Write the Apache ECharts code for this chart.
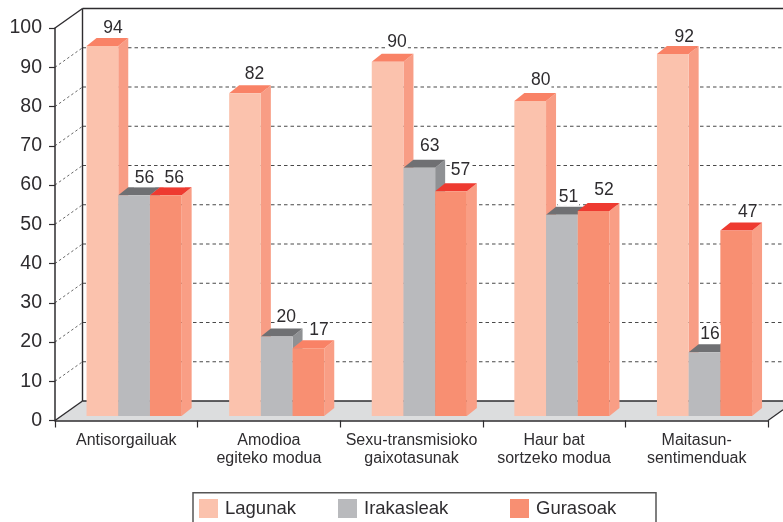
<!DOCTYPE html>
<html>
<head>
<meta charset="utf-8">
<style>html,body{margin:0;padding:0;background:#fff}#c{width:783px;height:522px}</style>
<script src="https://cdn.jsdelivr.net/npm/echarts@6/dist/echarts.min.js"></script>
</head>
<body>
<div id="c"></div>
<script>
var categories = ['Antisorgailuak', 'Amodioa\negiteko modua', 'Sexu-transmisioko\ngaixotasunak', 'Haur bat\nsortzeko modua', 'Maitasun-\nsentimenduak'];
var seriesNames = ['Lagunak', 'Irakasleak', 'Gurasoak'];
var lagunak = [94, 82, 90, 80, 92];
var irakasleak = [56, 20, 63, 51, 16];
var gurasoak = [56, 17, 57, 52, 47];
var yTicks = [0, 10, 20, 30, 40, 50, 60, 70, 80, 90, 100];

var FONT = '"Liberation Sans", Arial, sans-serif';
var INK = '#2e2c2f';
var DEPTH_X = 27.5, DEPTH_Y = 19.5;
var BAR_W = 31.7, BAR_DX = 10, BAR_DY = 8;
var BASE_LIFT = 4.5, TOP_LIFT = 5.5, GROUP_SHIFT = 7.8;

var palette = [
  { front: '#fbc2ad', top: '#f98266', side: '#f89d85' },
  { front: '#b9babd', top: '#6f7073', side: '#8f9194' },
  { front: '#f88f72', top: '#ee3a30', side: '#f99e85' }
];
var salmonTop = '#f98266';

// hand placement of the value labels relative to each bar's top: [dx, dy] by series, then category
var labelNudge = [
  [[1, 3], [0, 2], [0, 1], [1, 0], [2, 4]],
  [[1, 4], [0, 2], [1, -1], [-3, 3], [-4, 3]],
  [[-1, 4], [1, 3], [0, 0], [1, 0], [2, 3]]
];

function poly(points, color) {
  return { type: 'polygon', shape: { points: points }, style: { fill: color }, silent: true };
}
function line(x1, y1, x2, y2, color, width, dash) {
  return { type: 'line', shape: { x1: x1, y1: y1, x2: x2, y2: y2 },
           style: { stroke: color, lineWidth: width, lineDash: dash || null }, silent: true };
}

function renderFrame(params, api) {
  var v = api.value(1);
  var y = api.coord([0, v])[1];
  var cs = params.coordSys;
  var xL = cs.x, xR = cs.x + cs.width, W = api.getWidth();
  var backX = xL + DEPTH_X, backY = y - DEPTH_Y;
  var kids = [];
  if (v === 0) {
    var t = (W - xR) / DEPTH_X;
    kids.push(poly([[xL, y], [backX, backY], [W, backY], [W, y - DEPTH_Y * t], [xR, y]], '#dcddde'));
    kids.push(line(xL, y, backX, backY, INK, 1.4));
    kids.push(line(backX, backY, W, backY, INK, 1.4));
    kids.push(line(xR, y, W, y - DEPTH_Y * t, INK, 1.2));
  } else if (v === 100) {
    kids.push(line(xL, y, backX, backY, INK, 1.4));
    kids.push(line(backX, backY, W, backY, INK, 1.4));
    kids.push(line(backX, backY, backX, api.coord([0, 0])[1] - DEPTH_Y, INK, 1.4));
  } else {
    kids.push(line(xL, y, backX, backY, '#666', 1, [2.5, 2.5]));
    kids.push(line(backX, backY, W, backY, '#4a4a4a', 1.1, [3.5, 3]));
  }
  return { type: 'group', children: kids };
}

function makeBarRenderer(s) {
  return function (params, api) {
    var i = api.value(0), val = api.value(1);
    var p = api.coord([i, val]);
    var base = api.coord([i, 0])[1] - BASE_LIFT;
    var top = p[1] - TOP_LIFT;
    var x0 = p[0] + GROUP_SHIFT + (s - 1.5) * BAR_W;
    var x1 = x0 + BAR_W;
    var c = palette[s];
    var topColor = (s === 2 && i === 1) ? salmonTop : c.top;
    return { type: 'group', children: [
      poly([[x1, base], [x1 + BAR_DX, base - BAR_DY], [x1 + BAR_DX, top - BAR_DY], [x1, top]], c.side),
      poly([[x0, top], [x0 + BAR_DX, top - BAR_DY], [x1 + BAR_DX, top - BAR_DY], [x1, top]], topColor),
      { type: 'rect', shape: { x: x0, y: top, width: BAR_W, height: base - top }, style: { fill: c.front }, silent: true }
    ] };
  };
}

function makeLabelRenderer(s) {
  return function (params, api) {
    var i = api.value(0), val = api.value(1);
    var p = api.coord([i, val]);
    var n = labelNudge[s][i];
    var cx = p[0] + GROUP_SHIFT + (s - 1) * BAR_W + 9.5 + n[0];
    var cy = p[1] - TOP_LIFT - BAR_DY - 13 + n[1];
    return { type: 'text', x: cx, y: cy, silent: true,
      style: { text: String(val), fill: INK, font: '17.5px ' + FONT, align: 'center', verticalAlign: 'middle',
               backgroundColor: '#fff', padding: [0, 1] } };
  };
}

function barSeries(s, values) {
  return {
    name: seriesNames[s], type: 'custom', coordinateSystem: 'cartesian2d', z: 3 + s, clip: false,
    itemStyle: { color: palette[s].front },
    encode: { x: 0, y: 1 },
    data: values.map(function (v, i) { return [i, v]; }),
    renderItem: makeBarRenderer(s)
  };
}
function labelSeries(s, values) {
  return {
    name: 'label' + s, type: 'custom', coordinateSystem: 'cartesian2d', z: 8, clip: false, silent: true,
    encode: { x: 0, y: 1 },
    data: values.map(function (v, i) { return [i, v]; }),
    renderItem: makeLabelRenderer(s)
  };
}
function legendAt(s, left) {
  return {
    left: left, top: 499, icon: 'rect', itemWidth: 19, itemHeight: 19, padding: 0,
    selectedMode: false, data: [seriesNames[s]], itemStyle: { borderWidth: 0 },
    textStyle: { fontFamily: FONT, fontSize: 18.5, color: INK, padding: [1, 0, 0, 2] }
  };
}

var chart = echarts.init(document.getElementById('c'), null, { renderer: 'canvas' });
chart.setOption({
  animation: false,
  backgroundColor: '#fff',
  grid: { left: 55, right: 15, top: 28, bottom: 101.5, containLabel: false },
  legend: [legendAt(0, 199), legendAt(1, 338), legendAt(2, 510)],
  graphic: [{
    type: 'rect', silent: true, z: 0,
    shape: { x: 193, y: 492.75, width: 463, height: 40 },
    style: { fill: 'none', stroke: '#555', lineWidth: 1.5 }
  }],
  xAxis: {
    type: 'category', data: categories, z: 6,
    axisLine: { onZero: false, lineStyle: { color: INK, width: 1.5 } },
    axisTick: { show: true, alignWithLabel: false, length: 7, lineStyle: { color: INK, width: 1.2 } },
    axisLabel: { interval: 0, color: INK, fontFamily: FONT, fontSize: 16, lineHeight: 18, margin: 11 },
    splitLine: { show: false }
  },
  yAxis: {
    type: 'value', min: 0, max: 100, interval: 10, z: 6,
    axisLine: { show: true, lineStyle: { color: INK, width: 1.5 } },
    axisTick: { show: true, length: 6, lineStyle: { color: INK, width: 1.2 } },
    axisLabel: { color: INK, fontFamily: FONT, fontSize: 19.5, margin: 13 },
    splitLine: { show: false }
  },
  series: [
    { name: 'frame', type: 'custom', coordinateSystem: 'cartesian2d', z: 1, clip: false, silent: true,
      encode: { x: 0, y: 1 },
      data: yTicks.map(function (v) { return [0, v]; }),
      renderItem: renderFrame },
    barSeries(0, lagunak),
    barSeries(1, irakasleak),
    barSeries(2, gurasoak),
    labelSeries(0, lagunak),
    labelSeries(1, irakasleak),
    labelSeries(2, gurasoak)
  ]
});
</script>
</body>
</html>
